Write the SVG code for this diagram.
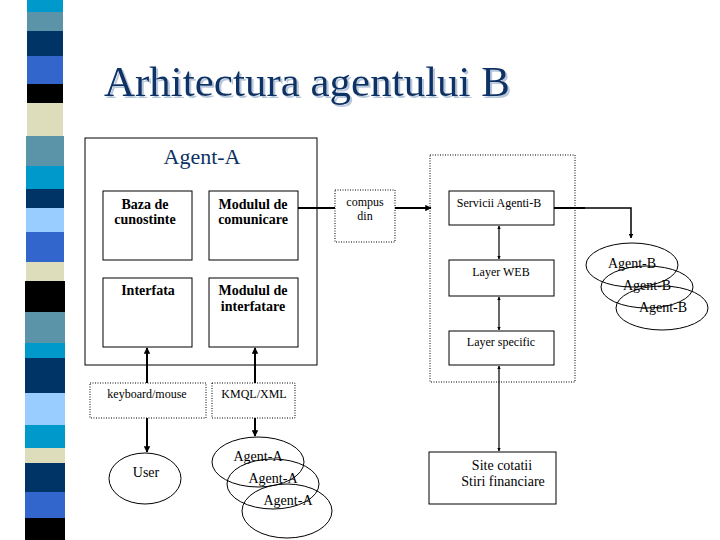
<svg xmlns="http://www.w3.org/2000/svg" width="720" height="540" viewBox="0 0 720 540" font-family="'Liberation Serif', 'DejaVu Serif', serif">
<defs>
<style>
text{font-family:'Liberation Serif','DejaVu Serif',serif;fill:#000}
.box{fill:none;stroke:#000;stroke-width:1}
.dot{fill:none;stroke:#000;stroke-width:1;stroke-dasharray:1 1.5}
.ell{fill:none;stroke:#000;stroke-width:1}
.ln{fill:none;stroke:#000;stroke-width:2}
.b{font-weight:bold;font-size:14px}
.t12{font-size:12px}
.t14{font-size:14px}
</style>
<marker id="ah" viewBox="0 0 10 10" refX="9" refY="5" markerWidth="3.2" markerHeight="3.2" orient="auto-start-reverse" markerUnits="strokeWidth">
<path d="M0,0 L10,5 L0,10 z" fill="#000"/>
</marker>
<filter id="shadow" x="-5%" y="-20%" width="110%" height="140%">
<feDropShadow dx="2" dy="2" stdDeviation="0.6" flood-color="#b8c8dc" flood-opacity="1"/>
</filter>
</defs>
<rect width="720" height="540" fill="#fff"/>
<g id="stripe">
<rect x="27" y="0" width="36" height="12" fill="#0099cc"/>
<rect x="27" y="12" width="36" height="19" fill="#5b93a8"/>
<rect x="27" y="31" width="36" height="25" fill="#003366"/>
<rect x="27" y="56" width="36" height="28" fill="#3366cc"/>
<rect x="27" y="84" width="36" height="19" fill="#000000"/>
<rect x="27" y="103" width="36" height="33" fill="#ddddbb"/>
<rect x="26" y="136" width="38" height="30" fill="#5b93a8"/>
<rect x="26" y="166" width="38" height="23" fill="#0099cc"/>
<rect x="26" y="189" width="38" height="19" fill="#003366"/>
<rect x="26" y="208" width="38" height="24" fill="#99ccff"/>
<rect x="26" y="232" width="38" height="30" fill="#3366cc"/>
<rect x="26" y="262" width="38" height="19" fill="#ddddbb"/>
<rect x="25" y="281" width="40" height="31" fill="#000000"/>
<rect x="25" y="312" width="40" height="31" fill="#5b93a8"/>
<rect x="25" y="343" width="40" height="15" fill="#0099cc"/>
<rect x="25" y="358" width="40" height="35" fill="#003366"/>
<rect x="25" y="393" width="40" height="32" fill="#99ccff"/>
<rect x="25" y="425" width="40" height="23" fill="#0099cc"/>
<rect x="25" y="448" width="40" height="15" fill="#ddddbb"/>
<rect x="25" y="463" width="40" height="29" fill="#003366"/>
<rect x="25" y="492" width="40" height="26" fill="#3366cc"/>
<rect x="25" y="518" width="40" height="22" fill="#000000"/>
</g>
<g id="title">
<text x="104" y="96" style="font-size:43px;fill:#0d3366" filter="url(#shadow)">Arhitectura agentului B</text>
</g>
<g id="agentA">
<rect class="box" x="85" y="138" width="232" height="227"/>
<text x="202" y="164" style="font-size:22px;fill:#0d3366" text-anchor="middle">Agent-A</text>
</g>
<g id="baza">
<rect class="box" x="103" y="191" width="89" height="69"/>
<text class="b" x="145" y="209" text-anchor="middle">Baza de</text>
<text class="b" x="145" y="224" text-anchor="middle">cunostinte</text>
</g>
<g id="comunicare">
<rect class="box" x="209" y="191" width="89" height="69"/>
<text class="b" x="253" y="209" text-anchor="middle">Modulul de</text>
<text class="b" x="253" y="224" text-anchor="middle">comunicare</text>
</g>
<g id="interfata">
<rect class="box" x="103" y="278" width="89" height="69"/>
<text class="b" x="148" y="295" text-anchor="middle">Interfata</text>
</g>
<g id="interfatare">
<rect class="box" x="209" y="278" width="89" height="69"/>
<text class="b" x="253" y="295" text-anchor="middle">Modulul de</text>
<text class="b" x="253" y="311" text-anchor="middle">interfatare</text>
</g>
<g id="compus">
<rect class="dot" x="335" y="190" width="60" height="52"/>
<text class="t12" x="365" y="206" text-anchor="middle">compus</text>
<text class="t12" x="365" y="220" text-anchor="middle">din</text>
</g>
<g id="agentB">
<rect class="dot" x="430" y="155" width="145" height="227"/>
</g>
<g id="servicii">
<rect class="box" x="449" y="191" width="105" height="34"/>
<text class="t12" x="499" y="207" text-anchor="middle">Servicii Agenti-B</text>
</g>
<g id="web">
<rect class="box" x="449" y="260" width="105" height="36"/>
<text class="t12" x="501" y="276" text-anchor="middle">Layer WEB</text>
</g>
<g id="specific">
<rect class="box" x="449" y="331" width="105" height="34"/>
<text class="t12" x="501" y="346" text-anchor="middle">Layer specific</text>
</g>
<g id="site">
<rect class="box" x="429" y="452" width="127" height="52"/>
<text class="t14" x="502" y="470" text-anchor="middle">Site cotatii</text>
<text class="t14" x="503" y="486" text-anchor="middle">Stiri financiare</text>
</g>
<g id="keyboard">
<rect class="dot" x="90" y="383" width="116" height="35"/>
<text class="t12" x="147" y="398" text-anchor="middle">keyboard/mouse</text>
</g>
<g id="kmql">
<rect class="dot" x="212" y="383" width="83" height="35"/>
<text class="t12" x="254" y="398" text-anchor="middle">KMQL/XML</text>
</g>
<g id="user">
<ellipse class="ell" cx="145" cy="478.5" rx="36" ry="25.5"/>
<text class="t14" x="146" y="477" text-anchor="middle">User</text>
</g>
<g id="agentsA">
<ellipse class="ell" cx="258" cy="462" rx="46" ry="25"/>
<text class="t14" x="258" y="461" text-anchor="middle">Agent-A</text>
<ellipse class="ell" cx="273" cy="484" rx="46" ry="25"/>
<text class="t14" x="273" y="483" text-anchor="middle">Agent-A</text>
<ellipse class="ell" cx="287" cy="511" rx="45" ry="27"/>
<text class="t14" x="288" y="505" text-anchor="middle">Agent-A</text>
</g>
<g id="agentsB">
<ellipse class="ell" cx="632" cy="265" rx="46" ry="22"/>
<text class="t14" x="632" y="268" text-anchor="middle">Agent-B</text>
<ellipse class="ell" cx="647" cy="287" rx="46" ry="21"/>
<text class="t14" x="647" y="290" text-anchor="middle">Agent-B</text>
<ellipse class="ell" cx="662" cy="308" rx="46" ry="22"/>
<text class="t14" x="663" y="312" text-anchor="middle">Agent-B</text>
</g>
<g id="connectors">
<path class="ln" d="M298,208 H335"/>
<path class="ln" d="M395,208 H431" marker-end="url(#ah)"/>
<path class="ln" d="M554,208 H585"/>
<path fill="none" stroke="#000" stroke-width="1.5" d="M585,208 H631 V238" marker-end="url(#ah)"/>
<path fill="none" stroke="#000" stroke-width="1.2" d="M499,226 V259" marker-start="url(#ah)" marker-end="url(#ah)"/>
<path fill="none" stroke="#000" stroke-width="1.2" d="M499,297 V330" marker-start="url(#ah)" marker-end="url(#ah)"/>
<path fill="none" stroke="#000" stroke-width="1.2" d="M499,366 V451" marker-start="url(#ah)" marker-end="url(#ah)"/>
<path class="ln" d="M147,383 V348" marker-end="url(#ah)"/>
<path class="ln" d="M255,383 V348" marker-end="url(#ah)"/>
<path class="ln" d="M147,418 V452" marker-end="url(#ah)"/>
<path class="ln" d="M255,418 V436" marker-end="url(#ah)"/>
</g>
</svg>
